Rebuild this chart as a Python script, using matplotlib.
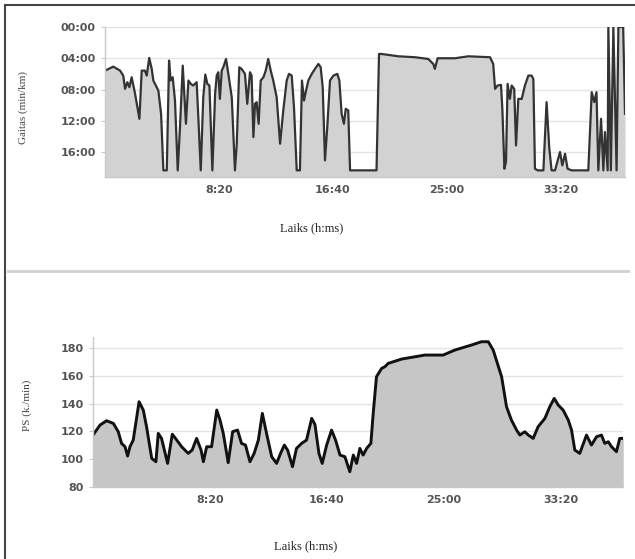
import matplotlib
matplotlib.use("Agg")
import matplotlib.pyplot as plt
from matplotlib.lines import Line2D

# ---------------- data ----------------
# Pace chart (time in seconds, pace in minutes per km)
pace_time = [0, 36, 66, 80, 88, 98, 107, 117, 132, 151, 161, 175, 183, 194, 205, 212,
             234, 246, 256, 271, 281, 288, 297, 307, 319, 329, 341, 348, 355, 366, 376,
             387, 402, 409, 420, 431, 440, 449, 458, 471, 483, 490, 497, 504, 512, 519,
             531, 541, 556, 570, 578, 589, 599, 614, 624, 636, 643, 651, 658, 665, 674,
             683, 695, 705, 716, 727, 738, 753, 768, 782, 797, 807, 819, 829, 841, 855,
             864, 873, 882, 892, 907, 921, 936, 946, 955, 965, 975, 987, 1002, 1019, 1028,
             1038, 1048, 1056, 1067, 1075, 1191, 1202, 1213, 1287, 1360, 1418, 1440, 1447,
             1459, 1535, 1594, 1689, 1703, 1711, 1722, 1737, 1743, 1752, 1759, 1766, 1776,
             1784, 1795, 1803, 1813, 1828, 1842, 1857, 1871, 1879, 1886, 1898, 1923, 1937,
             1949, 1959, 1974, 1996, 2006, 2018, 2029, 2047, 2120, 2135, 2146, 2156, 2164,
             2176, 2186, 2193, 2205, 2208, 2219, 2230, 2244, 2252, 2273, 2281]
pace_min = [5.6, 5.07, 5.58, 6.22, 7.92, 7.07, 7.71, 6.43, 8.56, 11.75, 5.58, 5.58, 6.22,
            3.96, 5.36, 6.85, 8.13, 11.11, 18.35, 18.35, 4.3, 6.85, 6.43, 9.41, 18.35,
            12.81, 4.94, 8.56, 12.39, 6.85, 7.28, 7.49, 7.07, 11.32, 18.35, 8.98, 6.09,
            7.28, 7.49, 18.35, 8.56, 6.22, 5.79, 9.2, 5.58, 5.15, 4.09, 6.0, 8.98, 18.35,
            14.94, 5.15, 5.36, 6.0, 9.83, 5.79, 6.22, 14.09, 9.83, 9.62, 12.39, 6.85, 6.43,
            5.58, 4.09, 5.58, 6.85, 8.98, 14.94, 10.69, 6.85, 6.0, 6.22, 10.26, 18.35, 18.35,
            6.85, 9.41, 8.13, 6.85, 6.0, 5.36, 4.73, 5.15, 7.71, 17.07, 12.81, 6.85, 6.22,
            6.0, 6.85, 11.11, 12.39, 10.47, 10.69, 18.35, 18.35, 3.45, 3.45, 3.75, 3.87,
            4.09, 4.73, 5.36, 4.0, 4.0, 3.75, 3.87, 4.73, 7.92, 7.49, 7.41, 10.47, 18.14,
            17.28, 7.28, 9.2, 7.49, 7.92, 15.16, 9.2, 9.2, 7.49, 6.22, 6.22, 6.64, 18.14,
            18.35, 18.35, 9.62, 15.58, 18.35, 18.35, 16.0, 17.71, 16.22, 18.14, 18.35,
            18.35, 8.34, 9.62, 8.34, 18.35, 11.75, 18.35, 13.45, 18.35, 0.04, 18.35, 0.04,
            18.35, 0.0, 0.0, 11.11]

# Heart rate chart (time in seconds, beats per minute)
hr_time = [0, 30, 58, 87, 108, 122, 137, 148, 158, 172, 197, 215, 229, 251, 269, 279, 293,
           319, 339, 358, 379, 407, 424, 443, 462, 472, 486, 507, 529, 543, 557, 578, 597,
           618, 635, 652, 671, 689, 707, 724, 742, 764, 785, 802, 818, 832, 853, 870, 892,
           913, 935, 949, 966, 980, 999, 1020, 1037, 1056, 1077, 1098, 1113, 1127, 1141,
           1155, 1170, 1188, 1198, 1212, 1234, 1248, 1262, 1319, 1419, 1497, 1547, 1618,
           1661, 1690, 1711, 1747, 1768, 1789, 1811, 1825, 1846, 1861, 1882, 1903, 1932,
           1953, 1972, 1989, 2010, 2032, 2046, 2060, 2081, 2110, 2131, 2153, 2174, 2188,
           2203, 2217, 2238, 2252, 2267]
hr_bpm = [117.4, 124.6, 127.7, 125.8, 119.8, 111.4, 109, 102.3, 109, 113.8, 141.4, 135.4,
          123.4, 100.6, 98.2, 118.6, 115, 97, 118, 113.8, 109, 104.2, 106.6, 115, 106.6,
          98.2, 109, 109, 135.4, 128.2, 118.6, 97.5, 119.8, 121, 111.4, 110.2, 98.2, 104.2,
          113.8, 133, 118.6, 101.8, 97, 104.2, 110.2, 106.6, 94.6, 107.8, 111.4, 113.8,
          129.4, 125, 104.2, 97, 110.2, 121, 113.8, 103, 101.8, 91, 103, 97, 107.8, 103,
          107.8, 111.4, 133, 159.4, 165.4, 166.6, 169, 172.1, 175, 175, 178.6, 182.2, 184.6,
          184.6, 178.6, 159.4, 137.8, 128.2, 121, 117.4, 119.8, 117.4, 115, 123.4, 129.4,
          137.8, 143.8, 139, 135.4, 128.2, 121, 106.6, 104.2, 117.4, 110.2, 116.2, 117.4,
          111.4, 112.6, 109, 105.4, 115, 115]

x_ticks = [500, 1000, 1500, 2000]
x_tick_labels = ["8:20", "16:40", "25:00", "33:20"]
pace_ticks = [0, 4, 8, 12, 16]
pace_tick_labels = ["00:00", "04:00", "08:00", "12:00", "16:00"]
hr_ticks = [80, 100, 120, 140, 160, 180]
hr_tick_labels = ["80", "100", "120", "140", "160", "180"]

x_title = "Laiks (h:ms)"
pace_title = "Gaitas (min/km)"
hr_title = "PS (k./min)"

# ---------------- figure ----------------
W, H = 635, 559
fig = plt.figure(figsize=(W / 100, H / 100), dpi=100)
fig.patch.set_facecolor("white")


def fx(px):
    return px / W


def fy(py):
    return 1 - py / H


tick_color = "#555555"
grid_color = "#e4e4e4"
spine_color = "#c8c8c8"
serif = ["Liberation Serif", "DejaVu Serif"]


def style_axes(ax):
    ax.set_facecolor("white")
    for s in ["top", "right"]:
        ax.spines[s].set_visible(False)
    for s in ["left", "bottom"]:
        ax.spines[s].set_color(spine_color)
        ax.spines[s].set_linewidth(1.0)
    ax.grid(axis="y", color=grid_color, linewidth=1.0)
    ax.set_axisbelow(True)
    ax.tick_params(axis="both", colors=spine_color, labelcolor=tick_color,
                   labelsize=8, length=3, width=0.8)
    ax.tick_params(axis="x", length=0, pad=6)
    for lab in ax.get_xticklabels() + ax.get_yticklabels():
        lab.set_fontweight("bold")


# ---- top: pace ----
ax1 = fig.add_axes([fx(105), fy(177), fx(625) - fx(105), fy(27) - fy(177)])
ax1.fill_between(pace_time, pace_min, 19.2, color="#d2d2d2", linewidth=0)
ax1.plot(pace_time, pace_min, color="#333333", linewidth=1.6)
ax1.set_xlim(0, 2281)
ax1.set_ylim(19.2, 0)
ax1.set_xticks(x_ticks)
ax1.set_xticklabels(x_tick_labels)
ax1.set_yticks(pace_ticks)
ax1.set_yticklabels(pace_tick_labels)
style_axes(ax1)

# ---- bottom: heart rate ----
ax2 = fig.add_axes([fx(93), fy(487), fx(623) - fx(93), fy(337) - fy(487)])
ax2.fill_between(hr_time, hr_bpm, 80, color="#c6c6c6", linewidth=0)
ax2.plot(hr_time, hr_bpm, color="#111111", linewidth=2.1)
ax2.set_xlim(0, 2266)
ax2.set_ylim(80, 188)
ax2.set_xticks(x_ticks)
ax2.set_xticklabels(x_tick_labels)
ax2.set_yticks(hr_ticks)
ax2.set_yticklabels(hr_tick_labels)
style_axes(ax2)

# ---- axis titles ----
fig.text(fx(312), fy(228), x_title, ha="center", va="center", fontsize=9,
         family=serif, color="#222222")
fig.text(fx(306), fy(546), x_title, ha="center", va="center", fontsize=9,
         family=serif, color="#222222")
fig.text(fx(23), fy(108), pace_title, ha="center", va="center", rotation=90,
         fontsize=8, family=serif, color="#444444")
fig.text(fx(27), fy(405), hr_title, ha="center", va="center", rotation=90,
         fontsize=8, family=serif, color="#444444")

# ---- frame and separator ----
fig.add_artist(Line2D([fx(5), fx(635)], [fy(5), fy(5)], color="#444444", linewidth=1.5))
fig.add_artist(Line2D([fx(5), fx(5)], [fy(5), fy(559)], color="#444444", linewidth=1.5))
fig.add_artist(Line2D([fx(8), fx(628)], [fy(271), fy(271)], color="#d0d0d0", linewidth=2))

fig.savefig("out.png", dpi=100, facecolor="white")
